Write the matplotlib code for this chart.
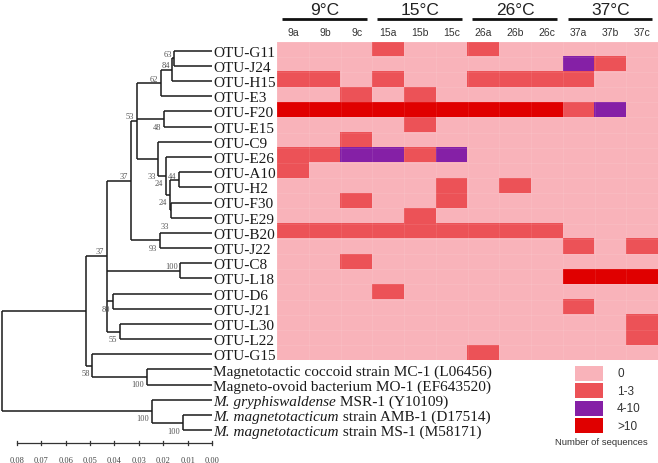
import matplotlib
matplotlib.use("Agg")
import matplotlib.pyplot as plt
import numpy as np
from matplotlib.colors import ListedColormap, BoundaryNorm

# tips of the tree, top to bottom: (italic part, plain part)
tip_labels = [
    ("", "OTU-G11"), ("", "OTU-J24"), ("", "OTU-H15"), ("", "OTU-E3"),
    ("", "OTU-F20"), ("", "OTU-E15"), ("", "OTU-C9"), ("", "OTU-E26"),
    ("", "OTU-A10"), ("", "OTU-H2"), ("", "OTU-F30"), ("", "OTU-E29"),
    ("", "OTU-B20"), ("", "OTU-J22"), ("", "OTU-C8"), ("", "OTU-L18"),
    ("", "OTU-D6"), ("", "OTU-J21"), ("", "OTU-L30"), ("", "OTU-L22"),
    ("", "OTU-G15"),
    ("", "Magnetotactic coccoid strain MC-1 (L06456)"),
    ("", "Magneto-ovoid bacterium MO-1 (EF643520)"),
    ("M. gryphiswaldense", " MSR-1 (Y10109)"),
    ("M. magnetotacticum", " strain AMB-1 (D17514)"),
    ("M. magnetotacticum", " strain MS-1 (M58171)"),
]
tip_ids = ["G11", "J24", "H15", "E3", "F20", "E15", "C9", "E26", "A10", "H2",
           "F30", "E29", "B20", "J22", "C8", "L18", "D6", "J21", "L30", "L22",
           "G15", "MC1", "MO1", "MSR1", "AMB1", "MS1"]

# internal nodes: name, children, height (distance), bootstrap, label offset (px)
nodes = [
    ("n63", ["G11", "J24"], 0.0155, "63", -4.3),
    ("n84", ["n63", "H15"], 0.0163, "84", -4.7),
    ("n62", ["n84", "E3"], 0.0210, "62", -4.0),
    ("n48", ["F20", "E15"], 0.0196, "48", 8.4),
    ("n44", ["A10", "H2"], 0.0134, "44", -3.5),
    ("n33b", ["F30", "E29"], 0.0166, "33", 15.7),
    ("n24b", ["n44", "n33b"], 0.0173, "24", 7.4),
    ("n24a", ["E26", "n24b"], 0.0190, "24", 7.1),
    ("n33a", ["C9", "n24a"], 0.0220, "33", 17.4),
    ("n53", ["n62", "n48", "n33a"], 0.0309, "53", -4.9),
    ("n93", ["B20", "J22"], 0.0213, "93", 7.5),
    ("n37b", ["n53", "n93"], 0.0333, "37", -4.7),
    ("n100a", ["C8", "L18"], 0.0131, "100", -5.1),
    ("n80", ["D6", "J21"], 0.0407, "80", 8.0),
    ("n55", ["L30", "L22"], 0.0377, "55", 7.5),
    ("n37a", ["n37b", "n100a", "n80", "n55"], 0.0432, "37", -5.0),
    ("n100b", ["MC1", "MO1"], 0.0268, "100", 7.2),
    ("n58", ["G15", "n100b"], 0.0491, "58", 7.1),
    ("nF", ["n37a", "n58"], 0.0518, "", 0),
    ("n100d", ["AMB1", "MS1"], 0.0120, "100", 8.0),
    ("n100c", ["MSR1", "n100d"], 0.0247, "100", 7.0),
    ("root", ["nF", "n100c"], 0.0861, "", 0),
]

scale_ticks = [0.08, 0.07, 0.06, 0.05, 0.04, 0.03, 0.02, 0.01, 0.00]

samples = ["9a", "9b", "9c", "15a", "15b", "15c", "26a", "26b", "26c", "37a", "37b", "37c"]
groups = ["9°C", "15°C", "26°C", "37°C"]
# 0: none, 1: 1-3, 2: 4-10, 3: >10
counts = np.array([
    [0, 0, 0, 1, 0, 0, 1, 0, 0, 0, 0, 0],
    [0, 0, 0, 0, 0, 0, 0, 0, 0, 2, 1, 0],
    [1, 1, 0, 1, 0, 0, 1, 1, 1, 1, 0, 0],
    [0, 0, 1, 0, 1, 0, 0, 0, 0, 0, 0, 0],
    [3, 3, 3, 3, 3, 3, 3, 3, 3, 1, 2, 0],
    [0, 0, 0, 0, 1, 0, 0, 0, 0, 0, 0, 0],
    [0, 0, 1, 0, 0, 0, 0, 0, 0, 0, 0, 0],
    [1, 1, 2, 2, 1, 2, 0, 0, 0, 0, 0, 0],
    [1, 0, 0, 0, 0, 0, 0, 0, 0, 0, 0, 0],
    [0, 0, 0, 0, 0, 1, 0, 1, 0, 0, 0, 0],
    [0, 0, 1, 0, 0, 1, 0, 0, 0, 0, 0, 0],
    [0, 0, 0, 0, 1, 0, 0, 0, 0, 0, 0, 0],
    [1, 1, 1, 1, 1, 1, 1, 1, 1, 0, 0, 0],
    [0, 0, 0, 0, 0, 0, 0, 0, 0, 1, 0, 1],
    [0, 0, 1, 0, 0, 0, 0, 0, 0, 0, 0, 0],
    [0, 0, 0, 0, 0, 0, 0, 0, 0, 3, 3, 3],
    [0, 0, 0, 1, 0, 0, 0, 0, 0, 0, 0, 0],
    [0, 0, 0, 0, 0, 0, 0, 0, 0, 1, 0, 0],
    [0, 0, 0, 0, 0, 0, 0, 0, 0, 0, 0, 1],
    [0, 0, 0, 0, 0, 0, 0, 0, 0, 0, 0, 1],
    [0, 0, 0, 0, 0, 0, 1, 0, 0, 0, 0, 0],
])
legend_labels = ["0", "1-3", "4-10", ">10"]
colors = ["#F9B3BA", "#EC5257", "#8520A6", "#E00000"]

W, H = 658, 464
TIP_X, PX_UNIT, TIP0_Y, ROW = 212.0, 2440.0, 51.7, 15.18
SERIF = "Liberation Serif"
SANS = "Liberation Sans"

fig = plt.figure(figsize=(W / 100, H / 100), dpi=100)

# ---- tree ----
ax = fig.add_axes([0, 0, 1, 1])
ax.set_xlim(TIP_X / PX_UNIT, (TIP_X - W) / PX_UNIT)
ax.set_ylim((H - TIP0_Y) / ROW, -TIP0_Y / ROW)
ax.axis("off")

ypos = {t: i for i, t in enumerate(tip_ids)}
xpos = {t: 0.0 for t in tip_ids}
lc = "#1a1a1a"
for name, kids, h, boot, dy in nodes:
    ys = [ypos[k] for k in kids]
    ypos[name] = (ys[0] + ys[-1]) / 2
    xpos[name] = h
    ax.plot([h, h], [ys[0], ys[-1]], color=lc, lw=1.1, solid_capstyle="butt")
    for k in kids:
        ax.plot([h, xpos[k]], [ypos[k], ypos[k]], color=lc, lw=1.1,
                solid_capstyle="butt")
    if boot:
        ax.text(h + 2.5 / PX_UNIT, ypos[name] + dy / ROW, boot, ha="right",
                va="center", fontsize=6, family=SERIF, color="#555555")

fs_tip = 11
for i, (ital, plain) in enumerate(tip_labels):
    x0 = -1.2 / PX_UNIT
    if ital:
        t = ax.text(x0, i, ital, style="italic", ha="left", va="center_baseline",
                    fontsize=fs_tip, family=SERIF, color="#1a1a1a")
        ax.annotate(plain, xy=(1, 0), xycoords=t, ha="left", va="bottom",
                    fontsize=fs_tip, family=SERIF, color="#1a1a1a")
    else:
        ax.text(x0, i, plain, ha="left", va="center_baseline",
                fontsize=fs_tip, family=SERIF, color="#1a1a1a")

# scale bar
y_sb = (444 - TIP0_Y) / ROW
ax.plot([scale_ticks[0], scale_ticks[-1]], [y_sb, y_sb], color="#333333", lw=0.9)
for t in scale_ticks:
    ax.plot([t, t], [y_sb - 2 / ROW, y_sb + 2 / ROW], color="#333333", lw=0.9)
    ax.text(t, (461 - TIP0_Y) / ROW, f"{t:.2f}", ha="center", va="center",
            fontsize=6, family=SERIF, color="#444444")

# ---- heatmap ----
top, left = 42.5, 277.3
nrow, ncol = counts.shape
hm = fig.add_axes([left / W, (H - top - nrow * ROW) / H, (W - left) / W, nrow * ROW / H])
cmap = ListedColormap(colors)
norm = BoundaryNorm([-0.5, 0.5, 1.5, 2.5, 3.5], cmap.N)
hm.imshow(counts, cmap=cmap, norm=norm, aspect="auto", interpolation="nearest")
hm.set_xticks(range(ncol))
hm.set_xticklabels(samples, fontsize=7.5, family=SANS, color="#333333")
hm.set_yticks([])
hm.tick_params(top=True, labeltop=True, bottom=False, labelbottom=False,
               length=0, pad=3)
hm.set_xticks(np.arange(-0.5, ncol, 1), minor=True)
hm.set_yticks(np.arange(-0.5, nrow, 1), minor=True)
hm.tick_params(which="minor", length=0)
hm.grid(which="minor", color="white", lw=0.4, alpha=0.15)
for s in hm.spines.values():
    s.set_visible(False)

y_line = -0.5 - (top - 20) / ROW
y_head = -0.5 - (top - 10.5) / ROW
for g, name in enumerate(groups):
    x0 = 3 * g - 0.5 + 0.15
    x1 = 3 * g + 2.5 - 0.18
    hm.plot([x0, x1], [y_line, y_line], color="#111111", lw=2.0,
            solid_capstyle="butt", clip_on=False)
    hm.text(3 * g + 1, y_head, name, ha="center", va="center", fontsize=12.5,
            family=SANS, color="#222222", clip_on=False)
hm.set_xlim(-0.5, ncol - 0.5)
hm.set_ylim(nrow - 0.5, -0.5)

# ---- legend ----
lg = fig.add_axes([575 / W, (H - 435.5) / H, 28 / W, 70 / H])
lg.barh(range(len(colors)), 1, height=0.83, color=colors)
lg.set_xlim(0, 1)
lg.set_ylim(len(colors) - 0.5, -0.5)
lg.axis("off")
for i, lab in enumerate(legend_labels):
    lg.text(1 + 14 / 28, i, lab, ha="left", va="center", fontsize=8.5,
            family=SANS, color="#333333")
fig.text(601.7 / W, 1 - 442.7 / H, "Number of sequences", ha="center",
         va="center", fontsize=6.8, family=SANS, color="#333333")

fig.savefig("out.png", dpi=100)
